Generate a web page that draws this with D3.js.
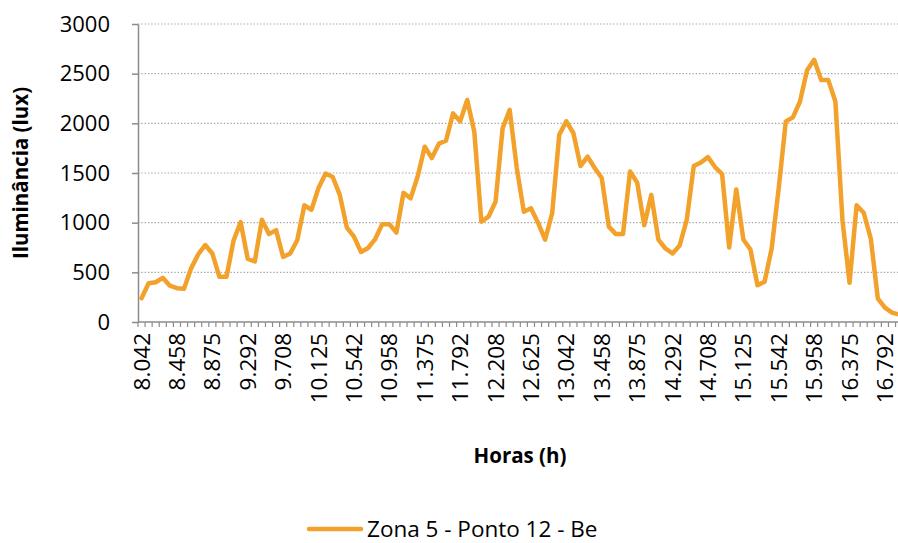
<!DOCTYPE html>
<html>
<head>
<meta charset="utf-8">
<script src="https://cdn.jsdelivr.net/npm/d3@7"></script>
<style>
  html, body { margin: 0; padding: 0; background: #fff; }
  svg { display: block; }
  text { font-family: "Open Sans", "Noto Sans", sans-serif; fill: #000; }
</style>
</head>
<body>
<svg id="chart" width="898" height="543"></svg>
<script>
// Time of day (decimal hours), one reading every 5 minutes
const hours = [
  "8.042","8.125","8.208","8.292","8.375","8.458","8.542","8.625","8.708","8.792","8.875","8.958",
  "9.042","9.125","9.208","9.292","9.375","9.458","9.542","9.625","9.708","9.792","9.875","9.958",
  "10.042","10.125","10.208","10.292","10.375","10.458","10.542","10.625","10.708","10.792","10.875","10.958",
  "11.042","11.125","11.208","11.292","11.375","11.458","11.542","11.625","11.708","11.792","11.875","11.958",
  "12.042","12.125","12.208","12.292","12.375","12.458","12.542","12.625","12.708","12.792","12.875","12.958",
  "13.042","13.125","13.208","13.292","13.375","13.458","13.542","13.625","13.708","13.792","13.875","13.958",
  "14.042","14.125","14.208","14.292","14.375","14.458","14.542","14.625","14.708","14.792","14.875","14.958",
  "15.042","15.125","15.208","15.292","15.375","15.458","15.542","15.625","15.708","15.792","15.875","15.958",
  "16.042","16.125","16.208","16.292","16.375","16.458","16.542","16.625","16.708","16.792","16.875","16.958"
];

// Illuminance (lux) measured at Zona 5 - Ponto 12 - Be
const illuminance = [
  240, 390, 400, 445, 365, 340, 335, 540, 680, 775, 690, 455,
  455, 820, 1005, 635, 610, 1030, 885, 925, 655, 690, 825, 1175,
  1130, 1350, 1495, 1460, 1280, 950, 860, 705, 745, 835, 985, 985,
  900, 1300, 1245, 1465, 1765, 1650, 1795, 1825, 2100, 2020, 2235, 1915,
  1010, 1060, 1210, 1950, 2135, 1550, 1110, 1145, 1000, 830, 1095, 1885,
  2020, 1900, 1570, 1665, 1550, 1450, 960, 885, 885, 1515, 1405, 975,
  1280, 830, 740, 690, 770, 1025, 1570, 1605, 1660, 1560, 1490, 750,
  1335, 830, 730, 370, 405, 740, 1350, 2020, 2060, 2220, 2535, 2640,
  2435, 2435, 2220, 1025, 395, 1175, 1100, 840, 235, 145, 95, 75
];

// Labelled hours on the category axis
const xTickLabels = [
  "8.042","8.458","8.875","9.292","9.708","10.125","10.542","10.958","11.375","11.792","12.208",
  "12.625","13.042","13.458","13.875","14.292","14.708","15.125","15.542","15.958","16.375","16.792"
];

// Value axis ticks
const yTicks = [0, 500, 1000, 1500, 2000, 2500, 3000];

const seriesName = "Zona 5 - Ponto 12 - Be";
const lineColor = "#F2A12B";
const axisColor = "#8C8C8C";

const svg = d3.select("#chart");

const plot = { left: 138, top: 24, bottom: 322, step: 7.08 };
plot.right = plot.left + plot.step * hours.length;

const x = d3.scaleBand()
  .domain(hours)
  .range([plot.left, plot.right])
  .paddingInner(0)
  .paddingOuter(0);

const y = d3.scaleLinear()
  .domain([0, 3000])
  .range([plot.bottom, plot.top]);

const cx = h => x(h) + x.bandwidth() / 2;

// Dotted horizontal gridlines
svg.append("g")
  .selectAll("line")
  .data(yTicks.filter(v => v > 0))
  .join("line")
  .attr("x1", plot.left)
  .attr("x2", plot.right)
  .attr("y1", d => y(d))
  .attr("y2", d => y(d))
  .attr("stroke", "#A6A6A6")
  .attr("stroke-width", 1.2)
  .attr("stroke-dasharray", "1.4 1.9");

// Value axis
const yAxis = svg.append("g")
  .attr("transform", `translate(${plot.left},0)`)
  .call(d3.axisLeft(y).tickValues(yTicks).tickFormat(d3.format("d"))
    .tickSize(6).tickPadding(22).tickSizeOuter(0));
yAxis.select(".domain").attr("stroke", axisColor).attr("stroke-width", 1.5);
yAxis.selectAll(".tick line").attr("stroke", axisColor).attr("stroke-width", 1.5);
yAxis.selectAll(".tick text")
  .attr("font-size", 22)
  .attr("font-family", "'Open Sans', sans-serif")
  .attr("fill", "#000");

// Category axis: a tick at every band boundary, labels every fifth reading
const xg = svg.append("g");
xg.append("line")
  .attr("x1", plot.left).attr("x2", plot.right)
  .attr("y1", plot.bottom).attr("y2", plot.bottom)
  .attr("stroke", axisColor).attr("stroke-width", 1.5);
const boundaries = hours.map(h => x(h)).concat([plot.right]);
xg.selectAll("line.tk")
  .data(boundaries)
  .join("line")
  .attr("class", "tk")
  .attr("x1", d => d).attr("x2", d => d)
  .attr("y1", plot.bottom).attr("y2", plot.bottom + 5)
  .attr("stroke", axisColor).attr("stroke-width", 1.2);

xg.selectAll("text")
  .data(xTickLabels)
  .join("text")
  .attr("transform", d => `translate(${cx(d)},${plot.bottom + 11}) rotate(-90)`)
  .attr("text-anchor", "end")
  .attr("dy", "0.36em")
  .attr("font-size", 22.5)
  .text(d => d);

// Series line
const line = d3.line()
  .x((d, i) => cx(hours[i]))
  .y(d => y(d));

svg.append("path")
  .datum(illuminance)
  .attr("d", line)
  .attr("fill", "none")
  .attr("stroke", lineColor)
  .attr("stroke-width", 4.5)
  .attr("stroke-linejoin", "round")
  .attr("stroke-linecap", "round");

// Axis titles
svg.append("text")
  .attr("transform", `translate(28,${(plot.top + plot.bottom) / 2}) rotate(-90)`)
  .attr("text-anchor", "middle")
  .attr("font-size", 20.5)
  .attr("font-weight", "bold")
  .text("Iluminância (lux)");

svg.append("text")
  .attr("x", 520)
  .attr("y", 463)
  .attr("text-anchor", "middle")
  .attr("font-size", 20.5)
  .attr("font-weight", "bold")
  .text("Horas (h)");

// Legend
const legend = svg.append("g");
legend.append("line")
  .attr("x1", 309).attr("x2", 361)
  .attr("y1", 529).attr("y2", 529)
  .attr("stroke", lineColor)
  .attr("stroke-width", 4.5)
  .attr("stroke-linecap", "round");
legend.append("text")
  .attr("x", 367)
  .attr("y", 529)
  .attr("dy", "0.35em")
  .attr("font-size", 22.5)
  .text(seriesName);
</script>
</body>
</html>
